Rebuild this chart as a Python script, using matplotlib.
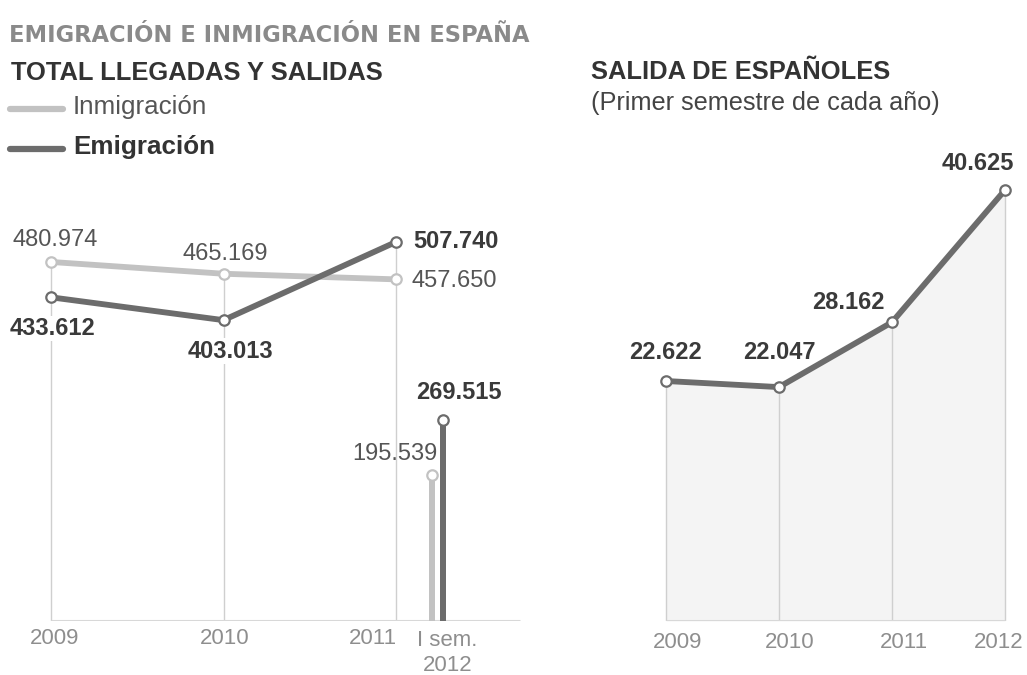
import matplotlib
matplotlib.use("Agg")
import matplotlib.pyplot as plt

# ---------------- data ----------------
years_left = ["2009", "2010", "2011"]
inmigracion = [480974, 465169, 457650]
emigracion = [433612, 403013, 507740]
sem_label = "I sem.\n2012"
inmigracion_sem = 195539
emigracion_sem = 269515

years_right = ["2009", "2010", "2011", "2012"]
salida_espanoles = [22622, 22047, 28162, 40625]

def fmt(v):
    return f"{v:,}".replace(",", ".")

# ---------------- style ----------------
W, H = 1027, 675
FONT = "Liberation Sans"
C_LIGHT = "#c2c2c2"
C_DARK = "#6c6c6c"
C_GRID = "#cfcfcf"
C_BASE = "#d8d8d8"
C_TICK = "#8e8e8e"
C_TXT_N = "#555555"
C_TXT_B = "#3a3a3a"

fig = plt.figure(figsize=(W / 100, H / 100), dpi=100)
fig.patch.set_facecolor("white")

def px_axes(x0, x1, ytop, ybot):
    return fig.add_axes([x0 / W, 1 - ybot / H, (x1 - x0) / W, (ybot - ytop) / H])

# ---------------- left chart ----------------
axL = px_axes(0, 540, 180, 621)
spL = 172.5            # px per category
pxL = 0.7465 / 1000    # px per unit
axL.set_xlim(-51 / spL, (540 - 51) / spL)
axL.set_ylim(0, (621 - 180) / pxL)
axL.axis("off")

xs = list(range(len(years_left)))
for i in xs:
    axL.plot([i, i], [0, max(inmigracion[i], emigracion[i])], color=C_GRID, lw=1, zorder=1)
axL.plot([0, (520 - 51) / spL], [0, 0], color=C_BASE, lw=2.2, zorder=1, solid_capstyle="butt")

mk = dict(marker="o", markersize=7.5, markerfacecolor="white", markeredgewidth=1.6)
axL.plot(xs, inmigracion, color=C_LIGHT, lw=4.2, zorder=3, markeredgecolor=C_LIGHT, **mk)
axL.plot(xs, emigracion, color=C_DARK, lw=4.2, zorder=4, markeredgecolor=C_DARK, **mk)

xs_in = 2 + 36 / spL
xs_em = 2 + 47 / spL
bw = 6 / spL
axL.bar([xs_in], [inmigracion_sem], width=bw, color=C_LIGHT, zorder=3)
axL.bar([xs_em], [emigracion_sem], width=bw, color=C_DARK, zorder=3)
axL.plot([xs_in], [inmigracion_sem], color=C_LIGHT, markeredgecolor=C_LIGHT, zorder=5, **mk)
axL.plot([xs_em], [emigracion_sem], color=C_DARK, markeredgecolor=C_DARK, zorder=5, **mk)

def lab(ax, x, y, txt, dx, dy, bold=False, ha="center", bg=True):
    kw = {}
    if bg:
        kw["bbox"] = dict(boxstyle="square,pad=0.05", fc="white", ec="none")
    ax.annotate(txt, (x, y), xytext=(dx, dy), textcoords="offset pixels",
                ha=ha, va="center", fontsize=17, family=FONT,
                fontweight="bold" if bold else "normal",
                color=C_TXT_B if bold else C_TXT_N, zorder=6, **kw)

lab(axL, 0, inmigracion[0], fmt(inmigracion[0]), 4, 22)
lab(axL, 1, inmigracion[1], fmt(inmigracion[1]), 2, 20)
lab(axL, 2, inmigracion[2], fmt(inmigracion[2]), 16, -2, ha="left")
lab(axL, 0, emigracion[0], fmt(emigracion[0]), 2, -31, bold=True)
lab(axL, 1, emigracion[1], fmt(emigracion[1]), 7, -31, bold=True)
lab(axL, 2, emigracion[2], fmt(emigracion[2]), 17, 0, bold=True, ha="left")
lab(axL, xs_em, emigracion_sem, fmt(emigracion_sem), 16, 27, bold=True)
lab(axL, xs_in, inmigracion_sem, fmt(inmigracion_sem), 6, 21, ha="right", bg=False)

tick_kw = dict(textcoords="offset pixels", va="center", fontsize=16, family=FONT, color=C_TICK)
left_tick_off = [(4, "center"), (1, "center"), (1, "right")]
for i, y in enumerate(years_left):
    dx, ha = left_tick_off[i]
    axL.annotate(y, (i, 0), xytext=(dx, -18), ha=ha, **tick_kw)
axL.annotate(sem_label, ((xs_in + xs_em) / 2, 0), xytext=(10, -32), ha="center",
             linespacing=1.2, **tick_kw)

# ---------------- right chart ----------------
axR = px_axes(600, 1027, 140, 621)
spR = 113
pxR = 10.609 / 1000
axR.set_xlim(-66 / spR, (1027 - 666) / spR)
axR.set_ylim(0, (621 - 140) / pxR)
axR.axis("off")

xr = list(range(len(years_right)))
axR.fill_between(xr, salida_espanoles, 0, color="#f4f4f4", zorder=0, lw=0)
for i in xr:
    axR.plot([i, i], [0, salida_espanoles[i]], color=C_GRID, lw=1, zorder=1)
axR.plot([0, 3], [0, 0], color=C_BASE, lw=2.2, zorder=1, solid_capstyle="butt")
axR.plot(xr, salida_espanoles, color=C_DARK, lw=4.2, zorder=3, markeredgecolor=C_DARK, **mk)

offs = [(0, 29), (0, 35), (-44, 20), (-27, 27)]
for i, (v, (dx, dy)) in enumerate(zip(salida_espanoles, offs)):
    axR.annotate(fmt(v), (i, v), xytext=(dx, dy), textcoords="offset pixels",
                 ha="center", va="center", fontsize=17, family=FONT,
                 fontweight="bold", color=C_TXT_B, zorder=6)
right_tick_dx = [12, 11, 12, -6]
for i, y in enumerate(years_right):
    axR.annotate(y, (i, 0), xytext=(right_tick_dx[i], -21), ha="center", **tick_kw)

# ---------------- titles & legend ----------------
def ftxt(x, y, s, size, color, bold=False, family=FONT):
    fig.text(x / W, 1 - y / H, s, fontsize=size, color=color, family=family,
             fontweight="bold" if bold else "normal", ha="left", va="center")

ftxt(9, 35, "EMIGRACIÓN E INMIGRACIÓN EN ESPAÑA", 16.3, "#8a8a8a", bold=True, family="DejaVu Sans")
ftxt(11, 73, "TOTAL LLEGADAS Y SALIDAS", 18.4, "#333333", bold=True)
ftxt(591, 72, "SALIDA DE ESPAÑOLES", 18.4, "#333333", bold=True)
ftxt(591, 103, "(Primer semestre de cada año)", 18.2, "#444444")

fig.add_artist(plt.Line2D([10 / W, 63 / W], [1 - 109 / H, 1 - 109 / H], color=C_LIGHT, lw=4.5,
                          solid_capstyle="round"))
fig.add_artist(plt.Line2D([10 / W, 63 / W], [1 - 149 / H, 1 - 149 / H], color=C_DARK, lw=4.5,
                          solid_capstyle="round"))
ftxt(73, 107, "Inmigración", 18.7, "#555555")
ftxt(73, 147, "Emigración", 18.7, "#333333", bold=True)

fig.savefig("out.png", dpi=100, facecolor="white")
